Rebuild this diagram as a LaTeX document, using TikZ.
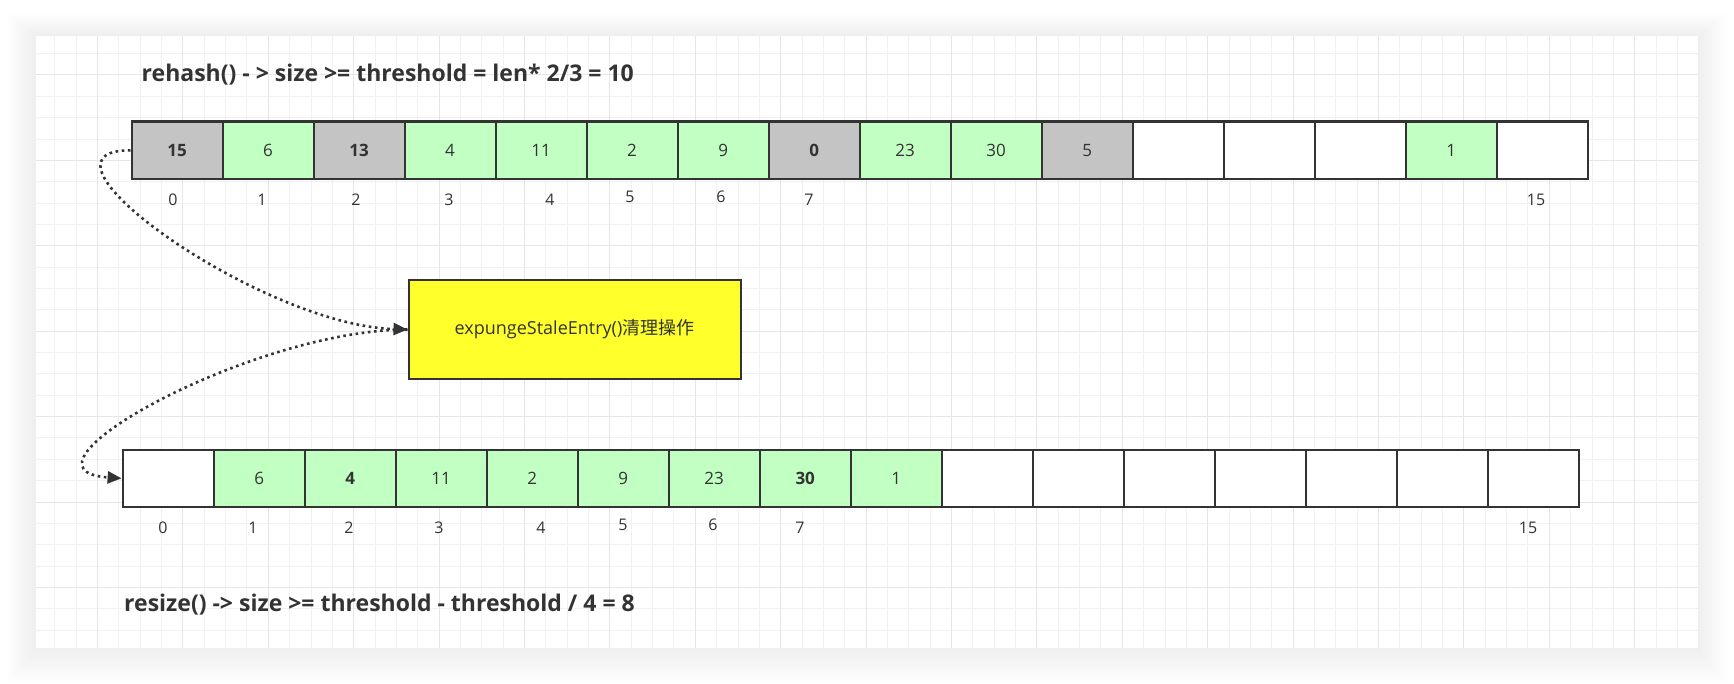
\documentclass[tikz,border=0pt]{standalone}
\usepackage{fontspec}
\setmainfont{Open Sans}
\newfontfamily\cjk{Noto Sans CJK SC}
\usetikzlibrary{arrows.meta}

\definecolor{cellgreen}{HTML}{C2FFC2}
\definecolor{cellgray}{HTML}{C4C4C4}
\definecolor{noteyellow}{HTML}{FFFF2B}
\definecolor{ink}{HTML}{333333}
\definecolor{gridminor}{HTML}{F1F1F1}
\definecolor{gridmajor}{HTML}{E6E6E6}

\begin{document}
\begin{tikzpicture}[x=1pt,y=-1pt,
    cell/.style={draw=ink, line width=2.2pt, minimum width=91pt, minimum height=57.5pt,
        inner sep=0pt, anchor=north west, text=ink, font=\fontsize{17}{17}\selectfont},
    idx/.style={text=ink, inner sep=0pt, font=\fontsize{16}{16}\selectfont},
    rule/.style={anchor=west, inner sep=0pt, text=ink, font=\fontsize{23}{23}\selectfont\bfseries},
    flow/.style={ink, line width=2.6pt, dash pattern=on 2.6pt off 3.6pt,
        -{Triangle[length=14pt,width=12pt]}}]
    \useasboundingbox (0,0) rectangle (1734,684);

    % Shadow and canvas
    \foreach \s in {1,...,16} {
        \fill[black, opacity=0.005] ({36-1.8*\s},{36-1.4*\s}) rectangle ({1698+1.8*\s},{648+2.2*\s});
    }
    \fill[white] (36,36) rectangle (1698,648);

    % Grid lines
    \begin{scope}
        \clip (36,36) rectangle (1698,648);
        \foreach \k in {0,...,78} {
            \draw[gridminor, line width=1pt] ({33.45+21.35*\k},36) -- ++(0,612);
        }
        \foreach \k in {0,...,29} {
            \draw[gridminor, line width=1pt] (36,{32.3+21.35*\k}) -- ++(1662,0);
        }
        \foreach \k in {0,...,19} {
            \draw[gridmajor, line width=1pt] ({97.5+85.4*\k},36) -- ++(0,612);
        }
        \foreach \k in {0,...,6} {
            \draw[gridmajor, line width=1pt] (36,{75+85.4*\k}) -- ++(1662,0);
        }
    \end{scope}

    % Titles
    \node[rule] (rehash) at (141.5,75) {rehash() - > size >= threshold = len* 2/3 = 10};
    \node[rule] (resize) at (124,605) {resize() -> size >= threshold - threshold / 4 = 8};

    % Table before rehash
    \foreach \v/\f/\w [count=\i from 0] in {15/cellgray/\bfseries, 6/cellgreen/\mdseries,
        13/cellgray/\bfseries, 4/cellgreen/\mdseries, 11/cellgreen/\mdseries,
        2/cellgreen/\mdseries, 9/cellgreen/\mdseries, 0/cellgray/\bfseries,
        23/cellgreen/\mdseries, 30/cellgreen/\mdseries, 5/cellgray/\mdseries,
        {}/white/\mdseries, {}/white/\mdseries, {}/white/\mdseries,
        1/cellgreen/\mdseries, {}/white/\mdseries} {
        \node[cell, fill=\f] (t\i) at ({130.5+91*\i},120.5) {\w\v};
    }
    \foreach \n/\x/\y in {0/173/200, 1/262/200, 2/356/200, 3/449/200, 4/550/200,
        5/630/197, 6/721/197, 7/809/200, 15/1536/200} {
        \node[idx] (tix\n) at (\x,\y) {\n};
    }

    % Table after resize
    \foreach \v/\f/\w [count=\i from 0] in {{}/white/\mdseries, 6/cellgreen/\mdseries,
        4/cellgreen/\bfseries, 11/cellgreen/\mdseries, 2/cellgreen/\mdseries,
        9/cellgreen/\mdseries, 23/cellgreen/\mdseries, 30/cellgreen/\bfseries,
        1/cellgreen/\mdseries, {}/white/\mdseries, {}/white/\mdseries,
        {}/white/\mdseries, {}/white/\mdseries, {}/white/\mdseries,
        {}/white/\mdseries, {}/white/\mdseries} {
        \node[cell, fill=\f] (b\i) at ({121.6+91*\i},448.5) {\w\v};
    }
    \foreach \n/\x/\y in {0/163/528, 1/253/528, 2/349/528, 3/439/528, 4/541/528,
        5/623/525, 6/713/525, 7/800/528, 15/1528/528} {
        \node[idx] (bix\n) at (\x,\y) {\n};
    }

    % Cleanup step
    \node[draw=ink, line width=2pt, fill=noteyellow, minimum width=332pt, minimum height=98.5pt,
        text=ink, font=\fontsize{18}{18}\selectfont] (note) at (574.5,329.5) {expungeStaleEntry(){\cjk 清理操作}};

    \draw[flow] (t0.west) .. controls (15,150) and (260,325) .. (note.west);
    \draw[flow] (note.west) .. controls (250,330) and (0,470) .. (b0.west);
\end{tikzpicture}
\end{document}
